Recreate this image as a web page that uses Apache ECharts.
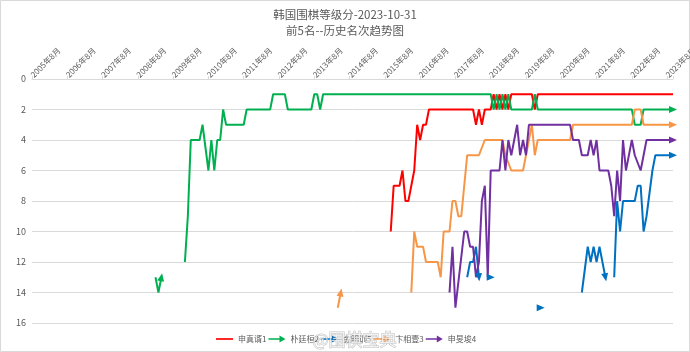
<!DOCTYPE html>
<html>
<head>
<meta charset="utf-8">
<script src="https://cdn.jsdelivr.net/npm/echarts@6/dist/echarts.min.js"></script>
<style>
  html, body { margin: 0; padding: 0; background: #fff; }
  #chart { width: 690px; height: 352px; }
</style>
</head>
<body>
<div id="chart"></div>
<script>
// x = months since 2005年8月, y = ranking; null = break in the line
const yearLabels = ['2005年8月', '2006年8月', '2007年8月', '2008年8月', '2009年8月', '2010年8月',
  '2011年8月', '2012年8月', '2013年8月', '2014年8月', '2015年8月', '2016年8月', '2017年8月',
  '2018年8月', '2019年8月', '2020年8月', '2021年8月', '2022年8月', '2023年8月'];
const rankTicks = [0, 2, 4, 6, 8, 10, 12, 14, 16];

const seriesNames = ['申真谞1', '朴廷桓2', '金明训5', '卞相壹3', '申旻埈4'];

const shinJinseo = [[122, 10], [123, 7], [125, 7], [126, 6], [127, 8], [128, 8], [130, 6], [131, 3],
  [132, 4], [133, 3], [134, 3], [135, 2], [150, 2], [151, 3], [152, 2], [153, 3], [154, 2], [156, 2],
  [157, 1], [158, 2], [159, 1], [160, 2], [161, 1], [162, 2], [163, 1], [170, 1], [171, 2], [172, 1],
  [218, 1]];

const parkJunghwan = [[42, 13], [43, 14], [44, 13], null,
  [52, 12], [53, 9], [54, 4], [57, 4], [58, 3], [60, 6], [61, 4], [62, 6], [63, 4], [64, 4], [65, 2],
  [66, 3], [72, 3], [73, 2], [81, 2], [82, 1], [86, 1], [87, 2], [95, 2], [96, 1], [97, 1], [98, 2],
  [99, 1], [156, 1], [157, 2], [158, 1], [159, 2], [160, 1], [161, 2], [162, 1], [163, 2], [170, 2],
  [171, 1], [172, 2], [204, 2], [205, 3], [207, 3], [208, 2], [218, 2]];

const kimMyounghoon = [[148, 13], [149, 12], [150, 12], [151, 11], [152, 13], null,
  [156, 13], null,
  [173, 15], null,
  [187, 14], [189, 11], [190, 12], [191, 11], [192, 12], [193, 11], [194, 12], [195, 13], null,
  [198, 13], [199, 8], [200, 10], [201, 8], [205, 8], [206, 7], [207, 7], [208, 10], [209, 9],
  [211, 6], [212, 5], [218, 5]];

const byunSangil = [[104, 15], [105, 14], null,
  [129, 14], [130, 10], [131, 11], [133, 11], [134, 12], [138, 12], [139, 13], [140, 10], [142, 10],
  [143, 8], [144, 8], [145, 9], [146, 9], [148, 5], [152, 5], [154, 4], [160, 4], [161, 5], [163, 6],
  [167, 6], [170, 3], [171, 5], [172, 4], [183, 4], [184, 3], [204, 3], [205, 2], [207, 2], [208, 3],
  [218, 3]];

const shinMinjun = [[142, 14], [143, 11], [144, 15], [147, 10], [148, 10], [149, 11], [150, 11],
  [151, 13], [152, 12], [153, 8], [154, 7], [155, 13], [156, 6], [159, 6], [160, 4], [161, 6],
  [162, 4], [163, 5], [164, 4], [165, 3], [166, 5], [167, 4], [168, 5], [169, 3], [183, 3], [184, 4],
  [186, 4], [187, 5], [189, 5], [190, 4], [191, 5], [192, 4], [193, 6], [196, 6], [197, 7], [198, 9],
  [199, 6], [200, 8], [201, 4], [202, 6], [204, 4], [205, 5], [207, 6], [208, 5], [209, 4], [218, 4]];

const allPoints = [shinJinseo, parkJunghwan, kimMyounghoon, byunSangil, shinMinjun];
const colors = ['#ff0000', '#00b050', '#0070c0', '#f79646', '#7030a0'];
const hasArrow = [false, true, true, true, true];

const FONT = '"Noto Sans CJK SC", "Microsoft YaHei", sans-serif';
const lineIcon = 'path://M0,3L20,3L20,5L0,5Z';
const arrowIcon = 'path://M0,3L13,3L13,0L20,4L13,8L13,5L0,5Z';

const chart = echarts.init(document.getElementById('chart'));

function plainData(points) {
  return points.map(p => p === null ? ['-', '-'] : p);
}

// put an arrow head on the last point of every segment, turned along the line
function arrowData(points, idx) {
  return points.map((p, i) => {
    if (p === null) return ['-', '-'];
    const next = points[i + 1];
    if (!hasArrow[idx] || (next !== undefined && next !== null)) return p;
    const prev = points[i - 1];
    let rot = -90;
    if (prev) {
      const a = chart.convertToPixel({ gridIndex: 0 }, prev);
      const b = chart.convertToPixel({ gridIndex: 0 }, p);
      rot = Math.atan2(-(b[1] - a[1]), b[0] - a[0]) * 180 / Math.PI - 90;
    }
    return { value: p, symbol: 'triangle', symbolSize: [7, 8], symbolRotate: rot };
  });
}

const option = {
  animation: false,
  backgroundColor: '#fff',
  title: {
    text: '韩国围棋等级分-2023-10-31\n前5名--历史名次趋势图',
    left: 'center',
    top: 7,
    padding: 0,
    textStyle: { fontFamily: FONT, fontSize: 11.5, fontWeight: 'normal', color: '#595959', lineHeight: 16 }
  },
  legend: {
    left: 216,
    top: 335,
    padding: 0,
    itemWidth: 17,
    itemHeight: 7,
    itemGap: 2,
    textStyle: { fontFamily: FONT, fontSize: 8, color: '#595959' },
    data: seriesNames.map((n, i) => ({ name: n, icon: hasArrow[i] ? arrowIcon : lineIcon }))
  },
  grid: { left: 32, right: 17, top: 79, bottom: 29, outerBoundsMode: 'none', containLabel: false },
  xAxis: {
    type: 'value',
    position: 'top',
    min: 0,
    max: 218,
    interval: 12,
    splitLine: { show: false },
    axisLine: { show: true, lineStyle: { color: '#d9d9d9' } },
    axisTick: { show: true, length: 3, lineStyle: { color: '#d9d9d9' } },
    axisLabel: {
      rotate: 45,
      margin: 3,
      fontFamily: FONT,
      fontSize: 8,
      color: '#595959',
      formatter: v => (v % 12 === 0 ? yearLabels[v / 12] : '')
    }
  },
  yAxis: {
    type: 'value',
    inverse: true,
    min: rankTicks[0],
    max: rankTicks[rankTicks.length - 1],
    interval: 2,
    axisLine: { show: false },
    axisTick: { show: false },
    splitLine: { lineStyle: { color: '#d9d9d9', width: 1 } },
    axisLabel: { margin: 6, fontFamily: FONT, fontSize: 9, color: '#595959' }
  },
  graphic: [
    {
      type: 'rect', silent: true,
      shape: { x: 0.5, y: 0.5, width: 689, height: 351 },
      style: { fill: 'none', stroke: '#d9d9d9', lineWidth: 1 }
    },
    {
      type: 'text', left: 312, top: 331, silent: true, z: 100,
      style: {
        text: '@围棋宝典', font: '17px ' + FONT,
        fill: 'rgba(255,255,255,0.7)', stroke: 'rgba(120,120,120,0.45)', lineWidth: 1
      }
    }
  ],
  series: allPoints.map((pts, i) => ({
    name: seriesNames[i],
    type: 'line',
    data: plainData(pts),
    symbol: 'none',
    showSymbol: true,
    connectNulls: false,
    color: colors[i],
    lineStyle: { width: 2, color: colors[i] },
    itemStyle: { color: colors[i] }
  }))
};

chart.setOption(option);
chart.setOption({
  series: allPoints.map((pts, i) => ({ data: arrowData(pts, i) }))
});
</script>
</body>
</html>
